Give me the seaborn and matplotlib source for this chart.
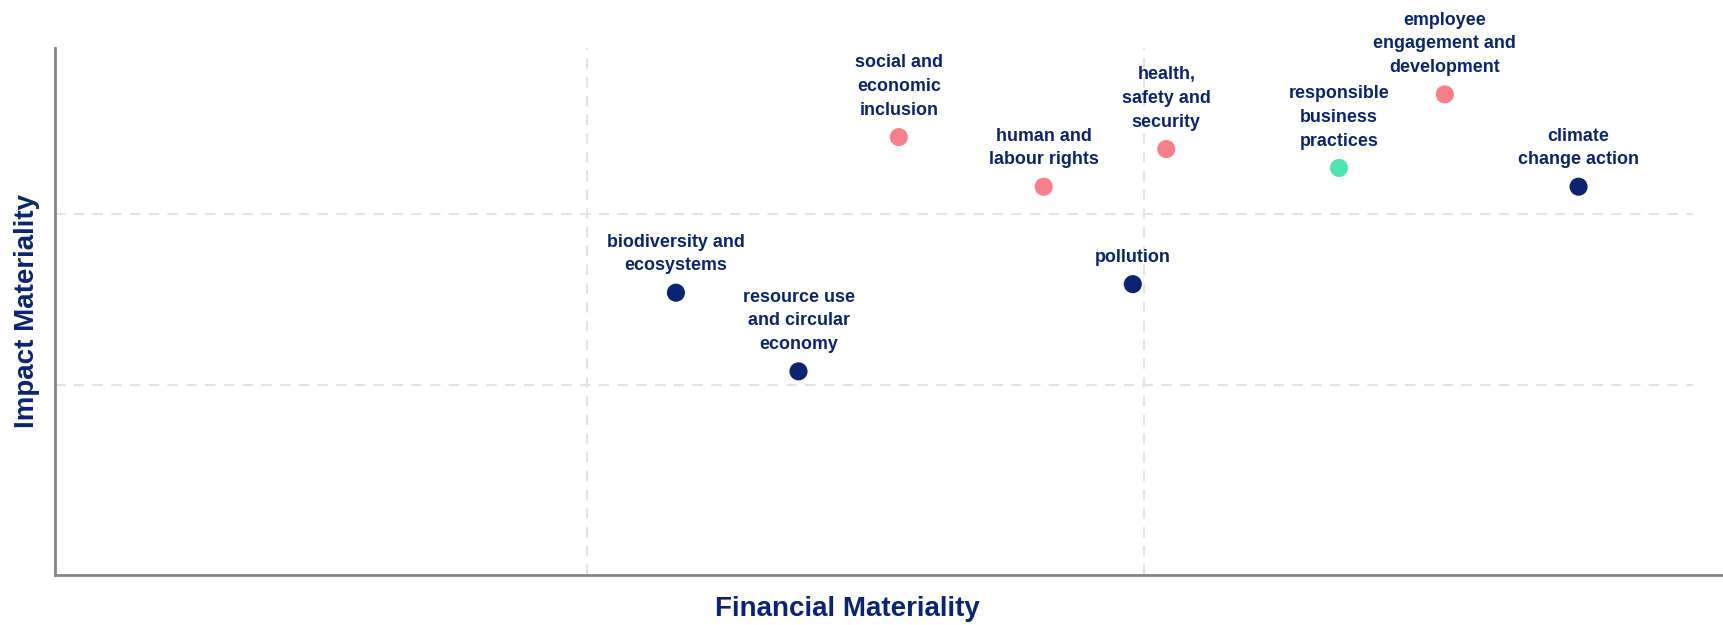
import matplotlib
matplotlib.use("Agg")
import matplotlib.pyplot as plt
import seaborn as sns
import pandas as pd

# topics and their scores (financial = x, impact = y)
topics = [
    "social and\neconomic\ninclusion",
    "human and\nlabour rights",
    "biodiversity and\necosystems",
    "resource use\nand circular\neconomy",
    "pollution",
    "health,\nsafety and\nsecurity",
    "responsible\nbusiness\npractices",
    "employee\nengagement and\ndevelopment",
    "climate\nchange action",
]
financial = [1.56, 1.82, 1.16, 1.38, 1.98, 2.04, 2.35, 2.54, 2.78]
impact = [2.45, 2.16, 1.54, 1.08, 1.59, 2.38, 2.27, 2.70, 2.16]
pillar = ["social", "social", "environment", "environment", "environment",
          "social", "governance", "social", "environment"]

navy = "#0a2471"
colors = {"social": "#f97e8b", "environment": navy, "governance": "#50e3b4"}

df = pd.DataFrame({"topic": topics, "financial": financial,
                   "impact": impact, "pillar": pillar})

sns.set_style("white")
plt.rcParams["font.family"] = ["Liberation Sans", "DejaVu Sans"]

fig = plt.figure(figsize=(17.24, 6.25), dpi=100)
ax = fig.add_axes([0.0317, 0.08, 0.9683, 0.8437])

# dashed grid splitting the matrix in thirds
for gx in [1, 2]:
    ax.axvline(gx, color="#e3e3e3", linestyle=(0, (5, 4)), linewidth=1.5, zorder=0)
for gy in [1, 2]:
    ax.hlines(gy, 0.045, 2.985, color="#e3e3e3", linestyle=(0, (5, 4)),
              linewidth=1.5, zorder=0)

sns.scatterplot(data=df, x="financial", y="impact", hue="pillar",
                palette=colors, s=170, edgecolor="none", legend=False,
                ax=ax, zorder=3)

for _, r in df.iterrows():
    ax.annotate(r["topic"], (r["financial"], r["impact"]),
                xytext=(0, 16), textcoords="offset points",
                ha="center", va="baseline", fontsize=12.9,
                fontweight="bold", color=navy, linespacing=1.52)

ax.set_xlim(0.045, 3.041)
ax.set_ylim(-0.111, 2.973)
ax.set_xticks([])
ax.set_yticks([])

for side in ["top", "right"]:
    ax.spines[side].set_visible(False)
for side in ["left", "bottom"]:
    ax.spines[side].set_color("#858585")
    ax.spines[side].set_linewidth(2)

ax.set_xlabel("Financial Materiality", fontsize=20, fontweight="bold", color=navy)
ax.set_ylabel("Impact Materiality", fontsize=20, fontweight="bold", color=navy)
ax.xaxis.set_label_coords(0.475, -0.039)
ax.yaxis.set_label_coords(-0.009, 0.5)

fig.savefig("out.png", dpi=100, facecolor="white")
